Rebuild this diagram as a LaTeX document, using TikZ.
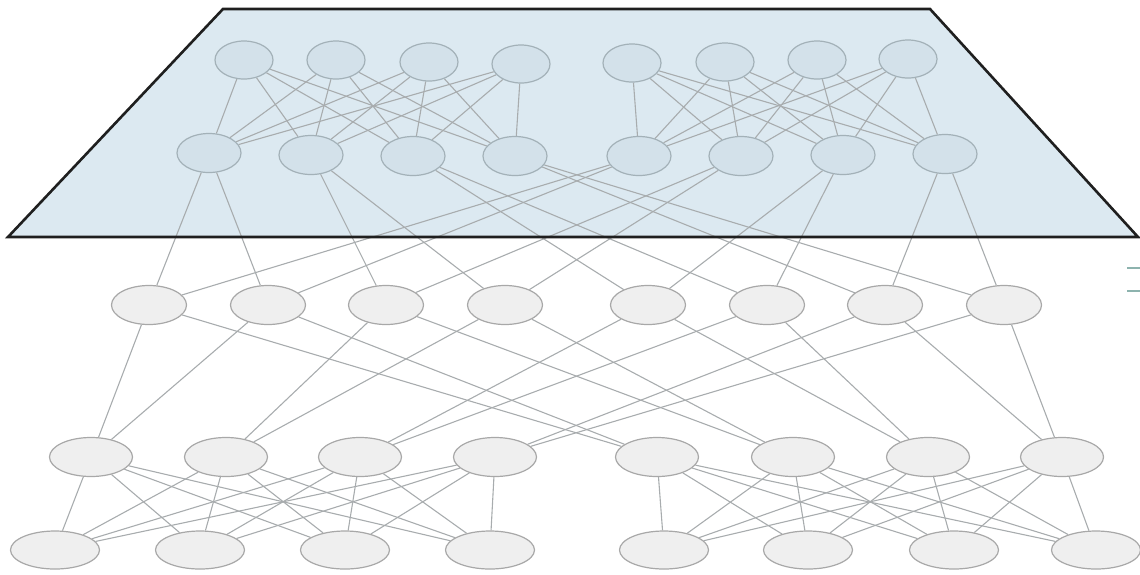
\documentclass[tikz,border=0pt]{standalone}
\usetikzlibrary{shapes.geometric}
\definecolor{planefill}{HTML}{DCE9F1}
\definecolor{topnode}{HTML}{D3E1EA}
\definecolor{topstroke}{HTML}{A3B1B8}
\definecolor{botnode}{HTML}{EFEFEF}
\definecolor{botstroke}{HTML}{A8A8A8}
\definecolor{linkcol}{HTML}{A8ACAE}
\definecolor{markcol}{HTML}{8DB3AE}
\pgfdeclarelayer{planelayer}
\pgfdeclarelayer{linklayer}
\pgfdeclarelayer{frontlayer}
\pgfsetlayers{planelayer,linklayer,main,frontlayer}
\begin{document}
\begin{tikzpicture}[x=1pt,y=-1pt,
  tnode/.style={ellipse, draw=topstroke, fill=topnode, line width=1.2pt, inner sep=0pt},
  bnode/.style={ellipse, draw=botstroke, fill=botnode, line width=1.2pt, inner sep=0pt},
  link/.style={draw=linkcol, line width=1.1pt},
  planeborder/.style={draw=black!88, line width=2.6pt, line join=miter},
  markline/.style={draw=markcol, line width=2.6pt}]
\useasboundingbox (0,0) rectangle (1140,574);
\begin{pgfonlayer}{planelayer}
\fill[planefill] (223,9) -- (930,9) -- (1138,237) -- (8,237) -- cycle;
\end{pgfonlayer}
% nodes
\foreach \x/\y [count=\i] in {244/60,336/60,429/62,521/64,632/63,725/62,817/60,908/59}
  \node[tnode, minimum width=58pt, minimum height=38pt] (A\i) at (\x,\y) {};
\foreach \x/\y [count=\i] in {209/153,311/155,413/156,515/156,639/156,741/156,843/155,945/154}
  \node[tnode, minimum width=64pt, minimum height=39pt] (B\i) at (\x,\y) {};
\foreach \x [count=\i] in {149,268,386,505,648,767,885,1004}
  \node[bnode, minimum width=75pt, minimum height=39pt] (C\i) at (\x,305) {};
\foreach \x [count=\i] in {91,226,360,495,657,793,928,1062}
  \node[bnode, minimum width=83pt, minimum height=39pt] (D\i) at (\x,457) {};
\foreach \x [count=\i] in {55,200,345,490,664,808,954,1096}
  \node[bnode, minimum width=89pt, minimum height=38pt] (E\i) at (\x,550) {};
% links
\begin{pgfonlayer}{linklayer}
\foreach \i in {1,...,4} \foreach \j in {1,...,4} \draw[link] (A\i) -- (B\j);
\foreach \i in {5,...,8} \foreach \j in {5,...,8} \draw[link] (A\i) -- (B\j);
\foreach \i/\a/\b in {1/1/2,2/3/4,3/5/6,4/7/8,5/1/2,6/3/4,7/5/6,8/7/8}
  {\draw[link] (B\i) -- (C\a); \draw[link] (B\i) -- (C\b);}
\foreach \c/\a/\b in {1/1/5,2/1/5,3/2/6,4/2/6,5/3/7,6/3/7,7/4/8,8/4/8}
  {\draw[link] (C\c) -- (D\a); \draw[link] (C\c) -- (D\b);}
\foreach \i in {1,...,4} \foreach \j in {1,...,4} \draw[link] (D\i) -- (E\j);
\foreach \i in {5,...,8} \foreach \j in {5,...,8} \draw[link] (D\i) -- (E\j);
\end{pgfonlayer}
\begin{pgfonlayer}{frontlayer}
\draw[planeborder] (223,9) -- (930,9) -- (1138,237) -- (8,237) -- cycle;
\draw[markline] (1127,268) -- (1140,268);
\draw[markline] (1127,291) -- (1140,291);
\end{pgfonlayer}
\end{tikzpicture}
\end{document}
